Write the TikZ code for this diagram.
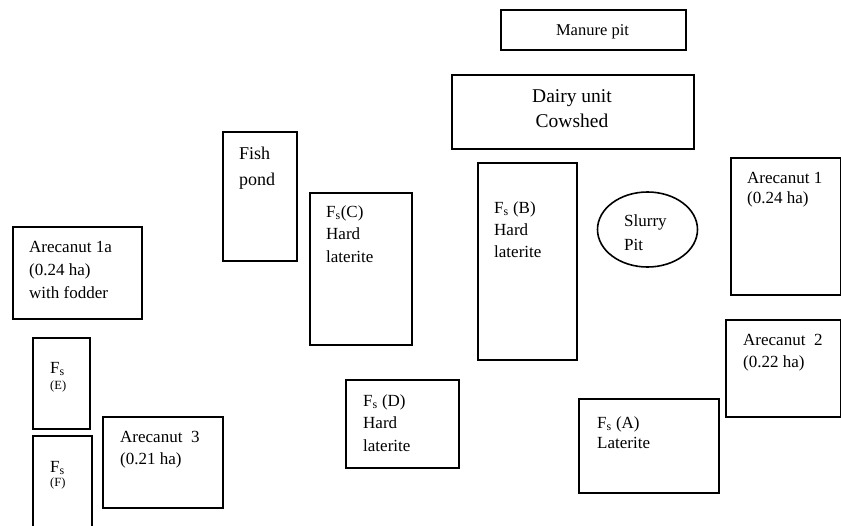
\documentclass[tikz,border=0pt]{standalone}
\usepackage{fontspec}
\setmainfont{Liberation Serif}
\usetikzlibrary{shapes.geometric}
\newcommand\fsub{F\textsubscript{s}}
\begin{document}
\begin{tikzpicture}[x=1pt,y=-1pt,
  box/.style={draw, line width=1.7pt, inner sep=0pt, anchor=north west},
  oval/.style={draw, line width=1.6pt, ellipse, inner sep=0pt},
  lbl/.style={anchor=base west, inner sep=0pt, font=\fontsize{17}{22.5}\selectfont},
  small/.style={font=\fontsize{12.5}{14}\selectfont}
]
\useasboundingbox (0,0) rectangle (841,525);
% boxes
\node[box, minimum width=185pt, minimum height=40pt] (manure) at (500,9) {};
\node[box, minimum width=242pt, minimum height=74pt] (dairy) at (451,74) {};
\node[box, minimum width=74pt, minimum height=129pt] (fish) at (222,131) {};
\node[box, minimum width=102pt, minimum height=152pt] (fsc) at (309,192) {};
\node[box, minimum width=99pt, minimum height=197pt] (fsb) at (477,162) {};
\node[box, minimum width=113pt, minimum height=88pt] (fsd) at (345,379) {};
\node[oval, minimum width=100pt, minimum height=75pt] (slurry) at (647.5,229.5) {};
\node[box, minimum width=110pt, minimum height=137pt] (are1) at (730,157) {};
\node[box, minimum width=115pt, minimum height=97pt] (are2) at (725,319) {};
\node[box, minimum width=140pt, minimum height=94pt] (fsa) at (578,398) {};
\node[box, minimum width=129pt, minimum height=92pt] (are1a) at (12,226) {};
\node[box, minimum width=57pt, minimum height=91pt] (fse) at (32,337) {};
\node[box, minimum width=59pt, minimum height=100pt] (fsf) at (32,435) {};
\node[box, minimum width=120pt, minimum height=91pt] (are3) at (102,416) {};
% labels
\node[anchor=base, inner sep=0pt, font=\fontsize{16.5}{20}\selectfont] (tmanure) at (592.5,35) {Manure pit};
\node[anchor=base, inner sep=0pt, font=\fontsize{19.5}{25}\selectfont] (tdairy) at (572,102) {\begin{tabular}[t]{@{}c@{}}Dairy unit\\Cowshed\end{tabular}};
\node[lbl, font=\fontsize{18}{26}\selectfont] (tfish) at (239,159) {\begin{tabular}[t]{@{}l@{}}Fish\\pond\end{tabular}};
\node[lbl] (tfsc) at (326,217) {\begin{tabular}[t]{@{}l@{}}\fsub(C)\\Hard\\laterite\end{tabular}};
\node[lbl, font=\fontsize{17}{22}\selectfont] (tfsb) at (494,213) {\begin{tabular}[t]{@{}l@{}}\fsub\ (B)\\Hard\\laterite\end{tabular}};
\node[lbl] (tfsd) at (363,406) {\begin{tabular}[t]{@{}l@{}}\fsub\ (D)\\Hard\\laterite\end{tabular}};
\node[lbl, font=\fontsize{17}{24}\selectfont] (tslurry) at (624,226) {\begin{tabular}[t]{@{}l@{}}Slurry\\Pit\end{tabular}};
\node[lbl, font=\fontsize{17}{20.5}\selectfont] (tare1) at (747,183) {\begin{tabular}[t]{@{}l@{}}Arecanut 1\\(0.24 ha)\end{tabular}};
\node[lbl] (tare2) at (743,345) {\begin{tabular}[t]{@{}l@{}}Arecanut\ \ 2\\(0.22 ha)\end{tabular}};
\node[lbl, font=\fontsize{17}{20.5}\selectfont] (tfsa) at (597,428) {\begin{tabular}[t]{@{}l@{}}\fsub\ (A)\\Laterite\end{tabular}};
\node[lbl, font=\fontsize{17}{23}\selectfont] (tare1a) at (29,252) {\begin{tabular}[t]{@{}l@{}}Arecanut 1a\\(0.24 ha)\\with fodder\end{tabular}};
\node[lbl] (tfse) at (50,373) {\fsub};
\node[lbl, small] (tfse2) at (50,389) {(E)};
\node[lbl] (tfsf) at (50,472) {\fsub};
\node[lbl, small] (tfsf2) at (50,486) {(F)};
\node[lbl] (tare3) at (120,442) {\begin{tabular}[t]{@{}l@{}}Arecanut\ \ 3\\(0.21 ha)\end{tabular}};
\end{tikzpicture}
\end{document}
